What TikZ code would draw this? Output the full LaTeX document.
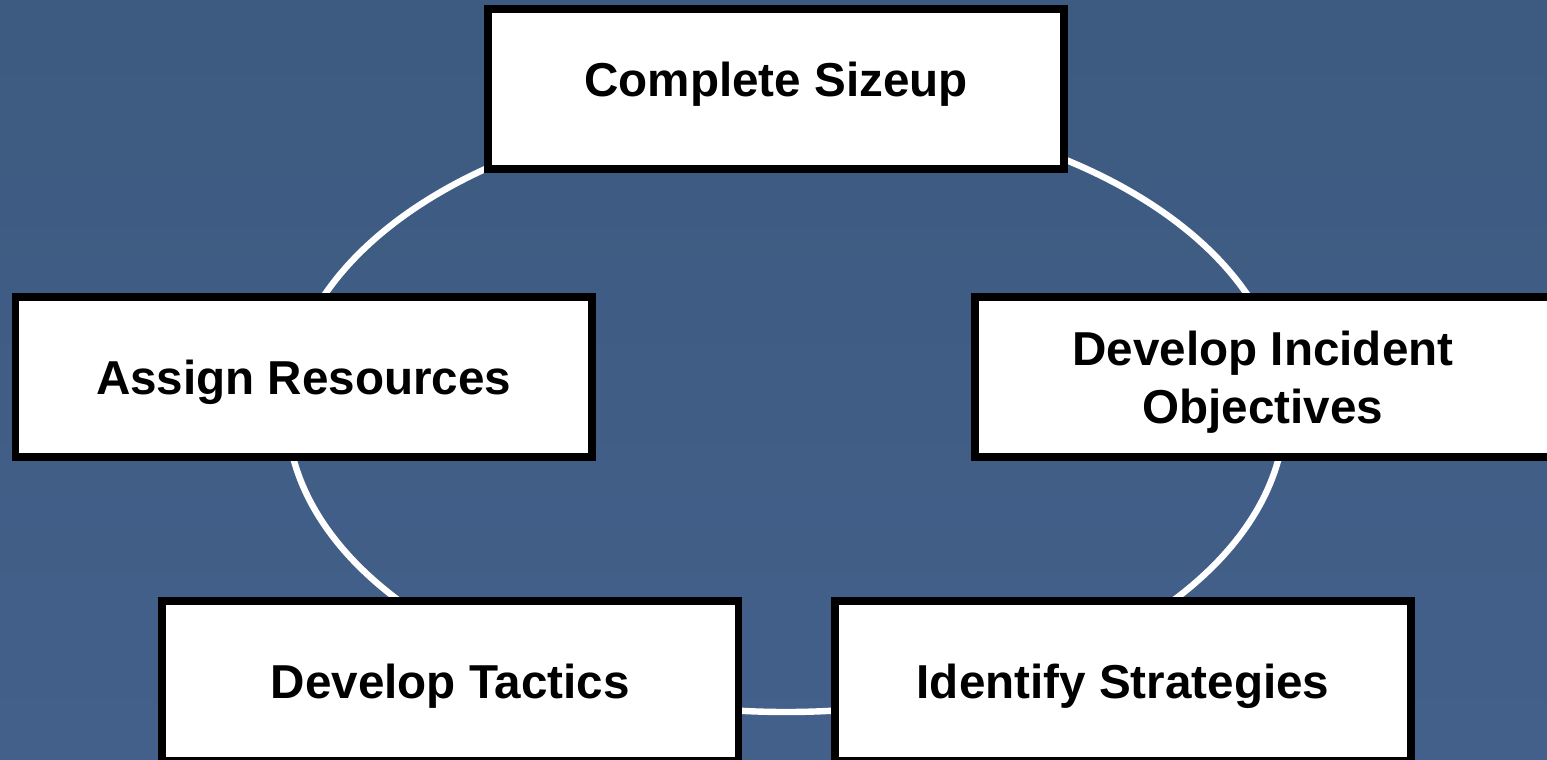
\documentclass[tikz,border=0pt]{standalone}
\usepackage{fontspec}
\setmainfont{Liberation Sans}
\begin{document}
\begin{tikzpicture}[x=0.5pt,y=-0.5pt,
  stepbox/.style={draw=black, fill=white, line width=3.85pt, rectangle,
    minimum width=288.15pt, minimum height=80pt, inner sep=0pt,
    align=center, font=\bfseries\fontsize{23.8}{28.6}\selectfont},
  ring/.style={draw=white, line width=3.2pt}]
\useasboundingbox (0,0) rectangle (1547,760);
\clip (0,0) rectangle (1547,760);
\shade[top color={rgb,255:red,61;green,90;blue,128}, middle color={rgb,255:red,70;green,101;blue,142}, bottom color={rgb,255:red,66;green,96;blue,138}] (0,0) rectangle (1547,760);
\coordinate (c) at (786,410);
\draw[ring] (c) ellipse [x radius=249.5pt, y radius=151pt];
\node[stepbox, text depth=9.3pt] (size) at (776,89) {Complete Sizeup};
\node[stepbox, text depth=0pt] (assign) at (303.7,377.2) {Assign Resources};
\node[stepbox, text depth=0pt] (obj) at (1263,377.2) {Develop Incident\\Objectives};
\node[stepbox, text depth=0pt] (tact) at (450.3,681.2) {Develop Tactics};
\node[stepbox, text depth=0pt] (strat) at (1123,681.2) {Identify Strategies};
\end{tikzpicture}
\end{document}
